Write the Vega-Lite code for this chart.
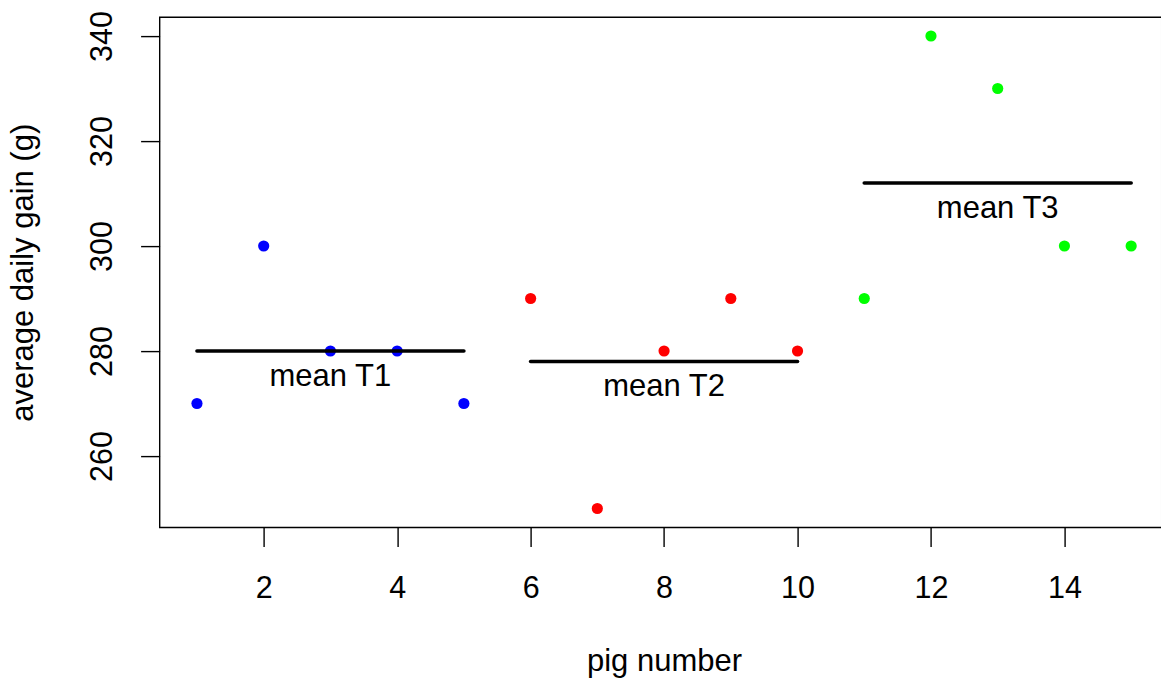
{
  "$schema": "https://vega.github.io/schema/vega-lite/v6.json",
  "width": 1002,
  "height": 510.3,
  "autosize": {"type": "none"},
  "padding": {"left": 159.6, "top": 17.1, "right": 0, "bottom": 154.6},
  "background": "white",
  "config": {
    "font": "Liberation Sans",
    "view": {"stroke": "black", "strokeWidth": 1.4},
    "axis": {
      "domain": false,
      "grid": false,
      "ticks": true,
      "tickColor": "black",
      "tickWidth": 1.4,
      "tickSize": 19,
      "labelFont": "Liberation Sans",
      "labelFontSize": 30.5,
      "labelColor": "black",
      "titleFont": "Liberation Sans",
      "titleFontSize": 31,
      "titleFontWeight": "normal",
      "titleColor": "black"
    }
  },
  "datasets": {
    "pigs": [
      {"pig": 1, "gain": 270, "treatment": "T1"},
      {"pig": 2, "gain": 300, "treatment": "T1"},
      {"pig": 3, "gain": 280, "treatment": "T1"},
      {"pig": 4, "gain": 280, "treatment": "T1"},
      {"pig": 5, "gain": 270, "treatment": "T1"},
      {"pig": 6, "gain": 290, "treatment": "T2"},
      {"pig": 7, "gain": 250, "treatment": "T2"},
      {"pig": 8, "gain": 280, "treatment": "T2"},
      {"pig": 9, "gain": 290, "treatment": "T2"},
      {"pig": 10, "gain": 280, "treatment": "T2"},
      {"pig": 11, "gain": 290, "treatment": "T3"},
      {"pig": 12, "gain": 340, "treatment": "T3"},
      {"pig": 13, "gain": 330, "treatment": "T3"},
      {"pig": 14, "gain": 300, "treatment": "T3"},
      {"pig": 15, "gain": 300, "treatment": "T3"}
    ],
    "means": [
      {"treatment": "T1", "start": 1, "end": 5, "mid": 3, "mean": 280, "label": "mean T1"},
      {"treatment": "T2", "start": 6, "end": 10, "mid": 8, "mean": 278, "label": "mean T2"},
      {"treatment": "T3", "start": 11, "end": 15, "mid": 13, "mean": 312, "label": "mean T3"}
    ]
  },
  "layer": [
    {
      "data": {"name": "pigs"},
      "mark": {"type": "point", "filled": true, "shape": "circle", "size": 125, "opacity": 1},
      "encoding": {
        "x": {
          "field": "pig", "type": "quantitative",
          "scale": {"domain": [0.44, 15.456], "nice": false, "zero": false},
          "axis": {
            "values": [2, 4, 6, 8, 10, 12, 14],
            "format": "d",
            "title": "pig number",
            "labelPadding": 51.6,
            "labelBaseline": "alphabetic",
            "titleX": 504.4,
            "titleY": 143.6,
            "titleAlign": "center",
            "titleBaseline": "alphabetic"
          }
        },
        "y": {
          "field": "gain", "type": "quantitative",
          "scale": {"domain": [246.4, 343.6], "nice": false, "zero": false},
          "axis": {
            "values": [260, 280, 300, 320, 340],
            "format": "d",
            "title": "average daily gain (g)",
            "labelAngle": -90,
            "labelAlign": "center",
            "labelBaseline": "alphabetic",
            "labelPadding": 28.6,
            "titleX": -126.6,
            "titleBaseline": "alphabetic",
            "titleAngle": -90
          }
        },
        "color": {
          "field": "treatment", "type": "nominal",
          "scale": {"domain": ["T1", "T2", "T3"], "range": ["#0000FF", "#FF0000", "#00FF00"]},
          "legend": null
        }
      }
    },
    {
      "data": {"name": "means"},
      "mark": {"type": "rule", "color": "black", "strokeWidth": 3.6, "strokeCap": "round"},
      "encoding": {
        "x": {"field": "start", "type": "quantitative"},
        "x2": {"field": "end"},
        "y": {"field": "mean", "type": "quantitative"}
      }
    },
    {
      "data": {"name": "means"},
      "mark": {"type": "text", "color": "black", "fontSize": 31, "font": "Liberation Sans", "baseline": "alphabetic", "align": "center", "dy": 35},
      "encoding": {
        "x": {"field": "mid", "type": "quantitative"},
        "y": {"field": "mean", "type": "quantitative"},
        "text": {"field": "label"}
      }
    }
  ]
}
